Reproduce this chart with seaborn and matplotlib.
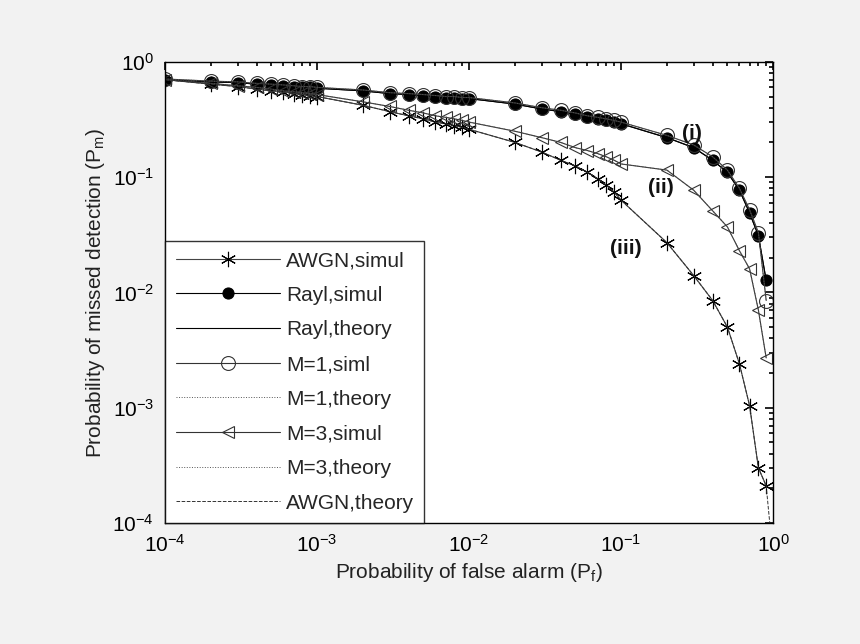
import numpy as np
import pandas as pd
import matplotlib
matplotlib.use("Agg")
import matplotlib.pyplot as plt
import seaborn as sns
from matplotlib.ticker import LogLocator, FixedLocator

sns.set_theme(style="white")
plt.rcParams['font.family'] = ['Liberation Sans', 'DejaVu Sans']
plt.rcParams['mathtext.fontset'] = 'custom'
plt.rcParams['mathtext.rm'] = 'Liberation Sans'
plt.rcParams['mathtext.it'] = 'Liberation Sans:italic'
plt.rcParams['mathtext.bf'] = 'Liberation Sans:bold'

pf = [1e-4, 2e-4, 3e-4, 4e-4, 5e-4, 6e-4, 7e-4, 8e-4, 9e-4, 1e-3,
      2e-3, 3e-3, 4e-3, 5e-3, 6e-3, 7e-3, 8e-3, 9e-3, 1e-2,
      2e-2, 3e-2, 4e-2, 5e-2, 6e-2, 7e-2, 8e-2, 9e-2, 0.1,
      0.2, 0.3, 0.4, 0.5, 0.6, 0.7, 0.8, 0.9]
rayl = [0.70, 0.67, 0.66, 0.64, 0.63, 0.62, 0.61, 0.60, 0.60, 0.59,
        0.56, 0.53, 0.52, 0.51, 0.50, 0.49, 0.49, 0.48, 0.48,
        0.43, 0.39, 0.37, 0.35, 0.33, 0.32, 0.31, 0.30, 0.29,
        0.22, 0.18, 0.14, 0.11, 0.077, 0.049, 0.031, 0.0127]
m1 = [0.71, 0.68, 0.67, 0.65, 0.64, 0.63, 0.62, 0.61, 0.61, 0.60,
      0.57, 0.54, 0.53, 0.52, 0.51, 0.50, 0.50, 0.49, 0.49,
      0.44, 0.40, 0.38, 0.36, 0.34, 0.33, 0.32, 0.31, 0.30,
      0.23, 0.19, 0.15, 0.115, 0.08, 0.052, 0.033, 0.0085]
m3 = [0.70, 0.65, 0.62, 0.60, 0.58, 0.56, 0.55, 0.54, 0.53, 0.52,
      0.45, 0.41, 0.38, 0.36, 0.34, 0.33, 0.32, 0.31, 0.30,
      0.25, 0.22, 0.20, 0.18, 0.17, 0.16, 0.15, 0.14, 0.13,
      0.115, 0.077, 0.051, 0.037, 0.023, 0.016, 0.0070, 0.0027]
awgn = [0.70, 0.64, 0.61, 0.58, 0.56, 0.55, 0.53, 0.52, 0.51, 0.50,
        0.42, 0.37, 0.34, 0.32, 0.30, 0.29, 0.28, 0.27, 0.26,
        0.20, 0.165, 0.14, 0.125, 0.11, 0.097, 0.085, 0.074, 0.063,
        0.027, 0.014, 0.0085, 0.005, 0.0024, 0.00104, 0.0003, 0.00021]
awgn_th_x = pf + [0.95]
awgn_th_y = awgn + [1e-4]
curve_labels = ["(i)", "(ii)", "(iii)"]
curve_label_pos = [(0.25, 0.24), (0.15, 0.082), (0.085, 0.024)]

fig = plt.figure(figsize=(8.6, 6.44), dpi=100, facecolor="#f2f2f2")
ax = fig.add_axes([0.192, 0.188, 0.707, 0.716])
ax.set_facecolor("white")

asterisk = (6, 2, 0)
def line(x, y, label, **kw):
    sns.lineplot(x=x, y=y, ax=ax, label=label, estimator=None, sort=False, **kw)

line(pf, awgn, "AWGN,simul", color="#444444", lw=0.8, marker=asterisk, markersize=11,
     markeredgecolor="black", markeredgewidth=0.8)
line(pf, rayl, "Rayl,simul", color="black", lw=0.8, marker="o", markersize=8,
     markerfacecolor="black", markeredgecolor="black")
line(pf, rayl, "Rayl,theory", color="black", lw=0.8)
line(pf, m1, "M=1,siml", color="#333333", lw=0.8, marker="o", markersize=10,
     markerfacecolor="none", markeredgecolor="#333333", markeredgewidth=0.8)
line(pf, m1, "M=1,theory", color="#555555", lw=0.7, linestyle=":")
line(pf, m3, "M=3,simul", color="#333333", lw=0.8, marker="<", markersize=9,
     markerfacecolor="none", markeredgecolor="#333333", markeredgewidth=0.8)
line(pf, m3, "M=3,theory", color="#555555", lw=0.7, linestyle=":")
line(awgn_th_x, awgn_th_y, "AWGN,theory", color="#333333", lw=0.7, linestyle="--")

for t, (x, y) in zip(curve_labels, curve_label_pos):
    ax.text(x, y, t, fontsize=15, fontweight="bold", ha="left", va="center", color="#111111")

ax.set_xscale("log"); ax.set_yscale("log")
ax.set_xlim(1e-4, 1); ax.set_ylim(1e-4, 1)
ax.xaxis.set_major_locator(FixedLocator([1e-4, 1e-3, 1e-2, 1e-1, 1]))
ax.yaxis.set_major_locator(FixedLocator([1e-4, 1e-3, 1e-2, 1e-1, 1]))
ax.set_xticklabels([r"$10^{-4}$", r"$10^{-3}$", r"$10^{-2}$", r"$10^{-1}$", r"$10^{0}$"])
ax.set_yticklabels([r"$10^{-4}$", r"$10^{-3}$", r"$10^{-2}$", r"$10^{-1}$", r"$10^{0}$"])
for a in (ax.xaxis, ax.yaxis):
    a.set_minor_locator(LogLocator(base=10, subs=np.arange(2, 10)))
ax.tick_params(which="both", direction="in", top=True, right=True, labelsize=15, colors="black")
ax.tick_params(axis="x", pad=8)
ax.tick_params(axis="y", pad=8)
ax.tick_params(which="major", length=6, width=1.2)
ax.tick_params(which="minor", length=3, width=1.2)
for s in ax.spines.values():
    s.set_color("black"); s.set_linewidth(1.0)

ax.set_xlabel(r"Probability of false alarm (P$_\mathrm{f}$)", fontsize=15, color="#222222", labelpad=4)
ax.set_ylabel(r"Probability of missed detection (P$_\mathrm{m}$)", fontsize=15, color="#222222")

leg = ax.legend(loc="lower left", bbox_to_anchor=(0.0, 0.0), fontsize=15, frameon=True,
                fancybox=False, edgecolor="black", handlelength=5, labelspacing=0.75,
                borderaxespad=0.0, handletextpad=0.3, borderpad=0.5)
leg.get_frame().set_linewidth(1.0)

fig.savefig("out.png", dpi=100, facecolor=fig.get_facecolor())
